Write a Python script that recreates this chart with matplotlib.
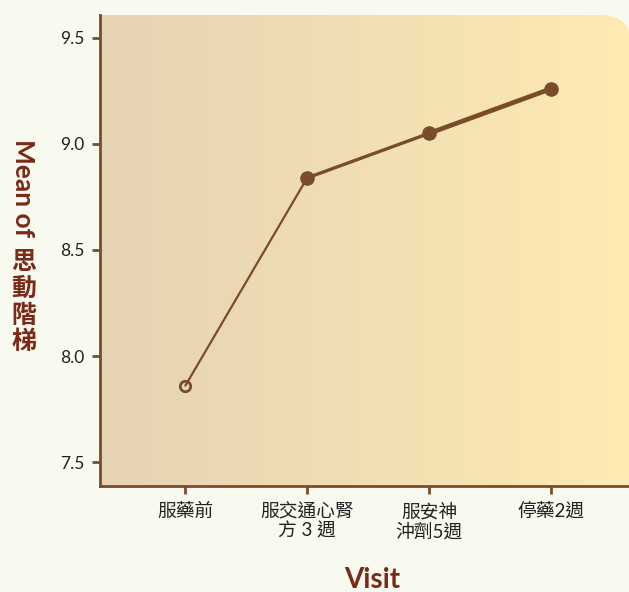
import numpy as np
import matplotlib
matplotlib.use("Agg")
import matplotlib.pyplot as plt
from matplotlib.patches import FancyBboxPatch

visits = ["服藥前", "服交通心腎\n方 3 週", "服安神\n沖劑5週", "停藥2週"]
means = [7.86, 8.84, 9.05, 9.26]
filled = [False, True, True, True]
seg_widths = [1.6, 2.4, 3.4]
yticks = [7.5, 8.0, 8.5, 9.0, 9.5]

BG = "#F9FAEF"
BROWN = "#7A4D2A"
TITLE = "#7A2A17"
W, H = 629, 592

fig = plt.figure(figsize=(W / 100, H / 100), dpi=100, facecolor=BG)
ax = fig.add_axes([100 / W, (H - 486) / H, 529 / W, 471 / H])
ax.set_facecolor("none")
ax.set_xlim(-0.70, 3.64)
ax.set_ylim(7.387, 9.608)

# gradient background clipped to rounded rect (top-right corner rounded)
grad = np.linspace(0, 1, 256)[None, :]
c0 = np.array([229, 211, 180]) / 255
c1 = np.array([254, 234, 178]) / 255
img = c0[None, None, :] * (1 - grad[..., None]) + c1[None, None, :] * grad[..., None]
im = ax.imshow(img, extent=(-0.70, 3.64, 7.387, 9.608), aspect="auto", zorder=0,
               interpolation="bilinear")
r = 30
clip = FancyBboxPatch((-1.0, -1.0), 1.0 + 531 / 529, 1.0 + 1.0,
                      boxstyle=f"round,pad=0,rounding_size={r / 529}",
                      mutation_aspect=529 / 471,
                      transform=ax.transAxes, facecolor="none", edgecolor="none")
ax.add_patch(clip)
im.set_clip_path(clip)

x = np.arange(len(visits))
for i in range(len(means) - 1):
    ax.plot(x[i:i + 2], means[i:i + 2], color=BROWN, lw=seg_widths[i],
            solid_capstyle="round", zorder=3)
for xi, yi, f in zip(x, means, filled):
    if f:
        ax.plot(xi, yi, "o", ms=9.5, color=BROWN, zorder=4)
    else:
        ax.plot(xi, yi, "o", ms=7.5, mfc="none", mec=BROWN, mew=2, zorder=4)

for s in ["top", "right"]:
    ax.spines[s].set_visible(False)
for s in ["left", "bottom"]:
    ax.spines[s].set_color(BROWN)
    ax.spines[s].set_linewidth(2)

ax.set_xticks(x)
ax.set_xticklabels(visits, fontsize=13.5, color="#222222",
                   family=["Lato", "Noto Sans CJK TC"], linespacing=1.2)
ax.set_yticks(yticks)
ax.set_yticklabels([f"{v:.1f}" for v in yticks], fontsize=12.5, color="#222222",
                   family=["Lato", "Noto Sans CJK TC"])
ax.tick_params(axis="both", colors=BROWN, width=2, length=6, labelcolor="#222222")
ax.tick_params(axis="x", pad=6)
ax.tick_params(axis="y", pad=5)

fig.text(372 / W, 1 - 580 / H, "Visit", fontsize=20, fontweight="bold", color=TITLE,
         ha="center", va="center", family=["Lato", "Noto Sans CJK TC"])

# vertical y label
fig.text(23 / W, 1 - 139 / H, "Mean of", fontsize=19, fontweight="bold", color=TITLE,
         rotation=-90, ha="center", va="top", family=["Lato", "Noto Sans CJK TC"])
for ch, yc in zip("思動階梯", [262, 289, 316, 342]):
    fig.text(24 / W, 1 - yc / H, ch, fontsize=18, fontweight="bold", color=TITLE,
             ha="center", va="center", family=["Noto Sans CJK TC"])

fig.savefig("out.png", dpi=100, facecolor=BG)
